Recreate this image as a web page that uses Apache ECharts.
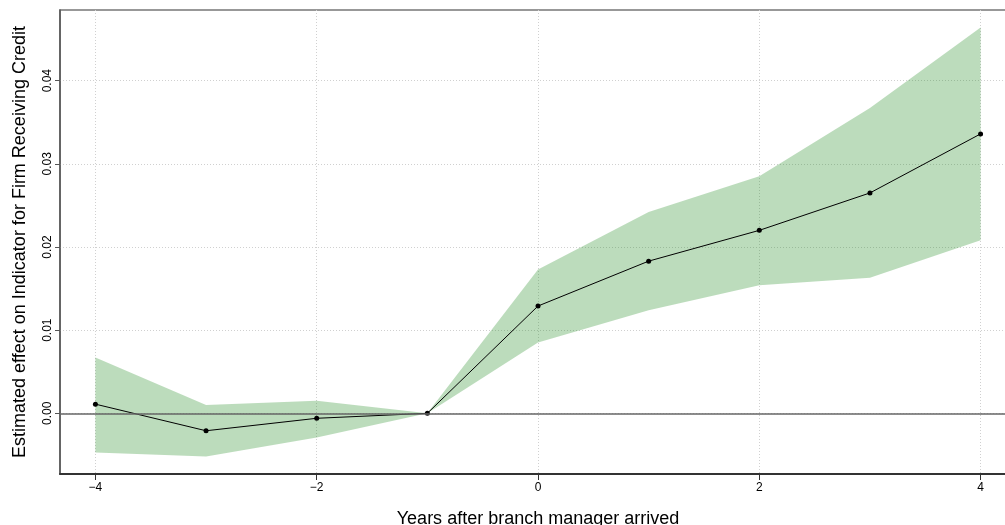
<!DOCTYPE html>
<html>
<head>
<meta charset="utf-8">
<script src="https://cdn.jsdelivr.net/npm/echarts@6/dist/echarts.min.js"></script>
<style>
  html, body { margin: 0; padding: 0; background: #ffffff; }
  #chart { width: 1005px; height: 525px; }
</style>
</head>
<body>
<div id="chart"></div>
<script>
// Event-study estimates: years relative to branch manager arrival
const years = [-4, -3, -2, -1, 0, 1, 2, 3, 4];
const estimate = [0.0011, -0.0021, -0.0006, 0.0, 0.0129, 0.0183, 0.0220, 0.0265, 0.0336];
const upperCI = [0.0067, 0.0010, 0.0015, 0.0, 0.0173, 0.0242, 0.0285, 0.0367, 0.0464];
const lowerCI = [-0.0047, -0.0052, -0.0029, 0.0, 0.0085, 0.0124, 0.0154, 0.0163, 0.0208];
const xTicks = [-4, -2, 0, 2, 4];
const yTicks = [0.00, 0.01, 0.02, 0.03, 0.04];

const FONT = '"Liberation Sans", Arial, Helvetica, sans-serif';

const chart = echarts.init(document.getElementById('chart'), null, { renderer: 'canvas' });

// confidence band as one polygon: upper edge left→right, lower edge right→left
function renderBand(params, api) {
  if (params.dataIndex !== 0) return null;
  const pts = [];
  for (let i = 0; i < years.length; i++) pts.push(api.coord([years[i], upperCI[i]]));
  for (let i = years.length - 1; i >= 0; i--) pts.push(api.coord([years[i], lowerCI[i]]));
  return {
    type: 'polygon',
    shape: { points: pts },
    style: { fill: 'rgba(34,139,34,0.30)' }
  };
}

chart.setOption({
  animation: false,
  backgroundColor: '#ffffff',
  grid: {
    left: 60, top: 10, width: 956, height: 464,
    outerBoundsMode: 'none',
    containLabel: false,
    show: true, borderColor: '#777777', borderWidth: 1.5, backgroundColor: 'transparent'
  },
  xAxis: {
    type: 'value',
    min: -4.32, max: 4.32,
    name: 'Years after branch manager arrived',
    nameLocation: 'middle',
    nameGap: 36,
    nameTextStyle: { fontFamily: FONT, fontSize: 18, color: '#000' },
    axisLine: { show: true, onZero: false, lineStyle: { color: '#333', width: 2 } },
    axisTick: { show: true, length: 6, customValues: xTicks, lineStyle: { color: '#333' } },
    axisLabel: {
      customValues: xTicks, margin: 8,
      fontFamily: FONT, fontSize: 12, color: '#000',
      formatter: v => String(v).replace('-', '\u2212')
    },
    splitLine: { show: true, lineStyle: { color: '#d0d0d0', type: [1, 2], width: 1 } }
  },
  yAxis: {
    type: 'value',
    min: -0.0073, max: 0.0485,
    name: 'Estimated effect on Indicator for Firm Receiving Credit',
    nameLocation: 'middle',
    nameGap: 31,
    nameTextStyle: { fontFamily: FONT, fontSize: 18, color: '#000' },
    axisLine: { show: true, onZero: false, lineStyle: { color: '#555', width: 1.5 } },
    axisTick: { show: true, length: 5, customValues: yTicks, lineStyle: { color: '#555' } },
    axisLabel: {
      customValues: yTicks, rotate: 90, margin: 6,
      fontFamily: FONT, fontSize: 12, color: '#000',
      formatter: v => v.toFixed(2)
    },
    splitLine: { show: true, lineStyle: { color: '#d0d0d0', type: [1, 2], width: 1 } }
  },
  series: [
    {
      type: 'line',
      data: [],
      silent: true,
      z: 1,
      markLine: {
        silent: true,
        symbol: 'none',
        label: { show: false },
        lineStyle: { color: '#666', type: 'solid', width: 1.5 },
        data: [{ yAxis: 0 }]
      }
    },
    {
      type: 'custom',
      renderItem: renderBand,
      data: [0],
      z: 2,
      silent: true
    },
    {
      type: 'line',
      data: years.map((x, i) => [x, estimate[i]]),
      z: 3,
      symbol: 'circle',
      symbolSize: 5,
      itemStyle: { color: '#000' },
      lineStyle: { color: '#000', width: 1 }
    }
  ]
});
</script>
</body>
</html>
